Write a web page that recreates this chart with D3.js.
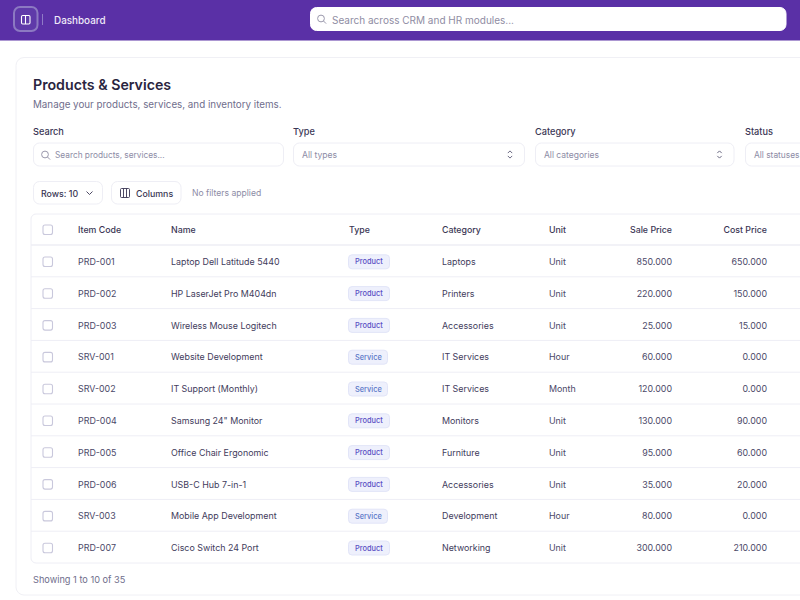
<!DOCTYPE html>
<html><head><meta charset="utf-8">
<script src="https://cdn.jsdelivr.net/npm/d3@7/dist/d3.min.js"></script>
<style>html,body{margin:0;padding:0;background:#fff;overflow:hidden}svg{display:block;font-family:Inter,"Noto Sans",sans-serif}</style>
</head><body><svg id="c" width="800" height="600"></svg>
<script>
const columns=["Item Code","Name","Type","Category","Unit","Sale Price","Cost Price"];
const codes=["PRD-001","PRD-002","PRD-003","SRV-001","SRV-002","PRD-004","PRD-005","PRD-006","SRV-003","PRD-007"];
const names=["Laptop Dell Latitude 5440","HP LaserJet Pro M404dn","Wireless Mouse Logitech","Website Development","IT Support (Monthly)",'Samsung 24" Monitor',"Office Chair Ergonomic","USB-C Hub 7-in-1","Mobile App Development","Cisco Switch 24 Port"];
const types=["Product","Product","Product","Service","Service","Product","Product","Product","Service","Product"];
const categories=["Laptops","Printers","Accessories","IT Services","IT Services","Monitors","Furniture","Accessories","Development","Networking"];
const units=["Unit","Unit","Unit","Hour","Month","Unit","Unit","Unit","Hour","Unit"];
const salePrices=[850,220,25,60,120,130,95,35,80,300];
const costPrices=[650,150,15,0,0,90,60,20,0,210];
const filters=[{l:"Search",p:"Search products, services..."},{l:"Type",p:"All types"},{l:"Category",p:"All categories"},{l:"Status",p:"All statuses"}];

const svg=d3.select("#c");
const BODY="#4b4868",MUTE="#8d8ca6",LINE="#eeeef5";
const fmt=d3.format(".3f");
function txt(x,y,s,o={}){return svg.append("text").attr("x",x).attr("y",y).attr("dominant-baseline","central").attr("font-size",o.size||8.9).attr("font-weight",o.w||400).attr("fill",o.fill||BODY).attr("text-anchor",o.a||"start").text(s);}
function box(x,y,w,h,r,o={}){return svg.append("rect").attr("x",x).attr("y",y).attr("width",w).attr("height",h).attr("rx",r).attr("fill",o.fill||"#fff").attr("stroke",o.stroke||LINE).attr("stroke-width",o.sw||1);}
function mag(x,y,c){svg.append("circle").attr("cx",x).attr("cy",y).attr("r",3.4).attr("fill","none").attr("stroke",c).attr("stroke-width",1);svg.append("path").attr("d",`M${x+2.5} ${y+2.5}l2.6 2.6`).attr("stroke",c).attr("stroke-width",1);}
function updown(x,y){svg.append("path").attr("d",`M${x-2.2} ${y-1.4}l2.2 -2.2l2.2 2.2M${x-2.2} ${y+1.4}l2.2 2.2l2.2 -2.2`).attr("fill","none").attr("stroke","#5b5975").attr("stroke-width",.9);}

// top bar
svg.append("rect").attr("width",800).attr("height",40.5).attr("fill","#5a30a6");
box(14,7,23.5,24,6,{fill:"#5f3aa9",stroke:"#8c79c2",sw:2});
box(21.5,15.5,8.5,8.5,1.2,{fill:"none",stroke:"#fff",sw:1.1});
svg.append("line").attr("x1",25.5).attr("x2",25.5).attr("y1",15.5).attr("y2",24).attr("stroke","#fff").attr("stroke-width",1.1);
svg.append("line").attr("x1",42.5).attr("x2",42.5).attr("y1",14).attr("y2",25).attr("stroke","#8f7ac6");
txt(54,19.5,"Dashboard",{size:9.9,w:500,fill:"#efeaf8"});
box(310.5,7.5,475.5,23,6,{stroke:"#fff"});
mag(321,18.5,"#9a98ac");
txt(332,19.5,"Search across CRM and HR modules...",{size:10,fill:"#8f8da3"});

// card
svg.append("path").attr("d","M801 57.5H24a8 8 0 0 0 -8 8V587a8 8 0 0 0 8 8H801").attr("fill","#fff").attr("stroke","#f0f0f5");
txt(33,84.5,"Products & Services",{size:14.2,w:600,fill:"#2a2540"});
txt(33,104,"Manage your products, services, and inventory items.",{size:9.8,fill:"#6f6e8c"});

// filters
const fx=[33,293,535,745],fw=[250,231,198.5,80],fs=[8.3,8.6,8.5,8.4];
filters.forEach((f,i)=>{
  txt(fx[i],131.5,f.l,{size:9.2,w:500,fill:"#3a3654"});
  box(fx[i]+.5,143,fw[i],23,6);
  if(i===0){mag(45,154.5,"#9a98ac");txt(55,154.7,f.p,{size:fs[i],fill:MUTE});}
  else{txt(fx[i]+9,154.7,f.p,{size:fs[i],fill:MUTE}); if(i<3)updown(fx[i]+fw[i]-14,154.5);}
});

// toolbar
box(33.5,181.5,69,22.5,6);
txt(41,193,"Rows: 10",{size:8.8,w:500,fill:"#3a3654"});
svg.append("path").attr("d","M86.5 191.5l3 3l3 -3").attr("fill","none").attr("stroke","#3a3654").attr("stroke-width",.9);
box(111.5,181.5,69.5,22.5,6);
box(120.5,188.5,9,9,1,{fill:"none",stroke:"#3a3654",sw:.9});
svg.append("path").attr("d","M123.5 188.5v9M126.5 188.5v9").attr("stroke","#3a3654").attr("stroke-width",.9);
txt(136,193,"Columns",{size:8.8,w:500,fill:"#3a3654"});
txt(192,193,"No filters applied",{size:8.6,fill:MUTE});

// table
const tableTop=214,headBottom=245,tableBottom=563;
const y=d3.scaleBand().domain(codes).range([headBottom,tableBottom]);
svg.append("path").attr("d",`M801 ${tableTop}H36a5 5 0 0 0 -5 5V${tableBottom-5}a5 5 0 0 0 5 5H801`).attr("fill","#fff").attr("stroke",LINE);
svg.append("line").attr("x1",31).attr("x2",800).attr("y1",headBottom).attr("y2",headBottom).attr("stroke",LINE).attr("stroke-width",1.4);
const colX=d3.scaleOrdinal().domain(columns).range([78,171,349,442,549,672,767]);
const rows=d3.range(codes.length);

svg.append("g").selectAll("line").data(codes.slice(0,-1)).join("line").attr("x1",31).attr("x2",800)
  .attr("y1",d=>y(d)+y.bandwidth()).attr("y2",d=>y(d)+y.bandwidth()).attr("stroke",LINE);

columns.forEach((c,i)=>txt(colX(c),229.5,c,{size:8.8,w:500,fill:"#3a3654",a:i>=5?"end":"start"}));

function check(cy){box(43,cy-4.5,9.5,9.5,2,{stroke:"#c9c8dc",sw:1.1});}
check(229.5);
rows.forEach(i=>{
  const cy=y(codes[i])+y.bandwidth()/2+.6;
  check(cy);
  txt(colX("Item Code"),cy,codes[i],{fill:"#4b4868"});
  txt(colX("Name"),cy,names[i],{fill:"#3f3c5c"});
  const isP=types[i]==="Product";
  box(348.5,cy-6.7,isP?41:39,14,3.5,{fill:"#eef0fc",stroke:"#e2e5f8"});
  txt(355,cy+.4,types[i],{size:7.4,w:500,fill:isP?"#5a4fc4":"#5a78c8"});
  txt(colX("Category"),cy,categories[i],{fill:"#3f3c5c"});
  txt(colX("Unit"),cy,units[i],{fill:"#4b4868"});
  txt(672,cy,fmt(salePrices[i]),{a:"end",fill:"#4b4868"});
  txt(767,cy,fmt(costPrices[i]),{a:"end",fill:"#4b4868"});
});
txt(33,579,"Showing 1 to 10 of 35",{size:9.2,fill:"#6f6e8c"});
</script></body></html>
